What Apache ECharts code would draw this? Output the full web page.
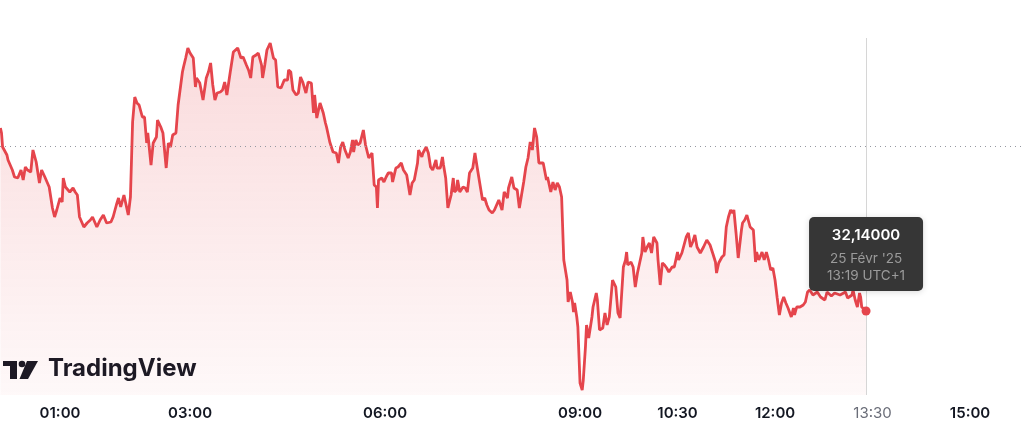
<!DOCTYPE html>
<html>
<head>
<meta charset="utf-8">
<script src="https://cdn.jsdelivr.net/npm/echarts@6/dist/echarts.min.js"></script>
<style>
html,body{margin:0;padding:0;background:#fff;}
#main{width:1024px;height:445px;}
</style>
</head>
<body>
<div id="main"></div>
<script>
// minutes since 00:00 (25 Févr '25)
var times = [
5,6,7,11,12,16,18,21,24,26,28,30,33,35,38,41,43,46,50,53,55,57,60,62,63,65,66,69,72,74,76,78,82,85,88,90,94,97,100,103,107,109,112,114,116,119,123,125,127,129,131,133,136,138,140,141,144,146,149,150,153,155,158,160,162,
164,167,169,173,174,176,178,180,183,185,186,189,192,195,197,199,201,203,205,208,210,212,214,217,220,222,224,227,229,232,234,236,238,241,243,246,247,249,251,254,257,259,261,264,267,270,271,273,275,278,280,282,284,287,289,292,294,295,297,300,303,305,306,309,312,315,317,319,321,323,326,
328,330,331,333,335,337,340,342,343,345,348,350,352,353,354,357,359,361,363,366,367,370,372,375,377,378,380,383,385,387,390,391,394,395,398,400,402,404,407,408,411,413,414,416,418,421,423,424,426,427,429,432,434,436,438,441,443,445,448,450,452,454,456,459,461,463,465,468,470,473,474,477,479,482,484,486,488,490,492,494,496,498,500,
502,506,509,510,513,515,517,519,521,523,525,528,529,531,533,534,535,537,538,540,542,543,545,546,548,551,552,555,556,558,561,563,565,567,570,571,573,575,577,580,582,583,584,587,589,591,593,594,597,598,600,602,604,606,608,611,612,614,616,618,620,622,625,627,630,631,634,636,638,640,642,644,646,648,651,
654,655,657,660,663,665,666,668,671,673,675,677,679,681,682,684,686,689,690,692,694,697,700,702,703,705,708,710,712,714,716,718,720,722,724,726,728,730,732,735,737,738,740,743,746,748,750,752,755,759,762,763,766,768,772,775,780,785,787,791,792,794,796,798,799,800,804
];
var prices = [
32.506,32.496,32.468,32.452,32.442,32.422,32.408,32.406,32.422,32.402,32.428,32.422,32.418,32.462,32.438,32.396,32.422,32.408,32.388,32.346,32.328,32.342,32.366,32.358,32.406,32.388,32.392,32.378,32.386,32.378,32.372,32.328,32.308,32.316,32.322,32.328,32.308,32.322,32.332,32.316,32.318,32.328,32.352,32.366,32.348,32.372,32.332,32.368,32.518,32.568,32.556,32.552,32.528,32.528,32.476,32.496,32.432,32.476,32.488,32.522,32.508,32.496,32.426,32.476,32.468,
32.492,32.496,32.552,32.618,32.628,32.646,32.666,32.656,32.646,32.588,32.606,32.596,32.562,32.606,32.618,32.636,32.592,32.562,32.576,32.578,32.582,32.598,32.572,32.616,32.658,32.662,32.666,32.646,32.648,32.632,32.622,32.606,32.648,32.652,32.656,32.632,32.606,32.632,32.662,32.676,32.646,32.642,32.588,32.586,32.602,32.602,32.622,32.618,32.582,32.572,32.576,32.608,32.598,32.576,32.598,32.596,32.536,32.572,32.526,32.556,32.536,32.516,32.508,32.478,32.458,32.456,32.436,32.468,32.478,32.462,32.446,
32.458,32.482,32.458,32.482,32.472,32.476,32.502,32.472,32.472,32.446,32.456,32.392,32.388,32.346,32.402,32.406,32.398,32.408,32.416,32.416,32.398,32.426,32.428,32.436,32.422,32.422,32.412,32.372,32.396,32.402,32.436,32.462,32.448,32.456,32.468,32.456,32.428,32.422,32.442,32.426,32.426,32.448,32.432,32.406,32.346,32.372,32.406,32.378,32.382,32.402,32.378,32.388,32.386,32.378,32.416,32.426,32.456,32.428,32.388,32.362,32.366,32.352,32.342,32.336,32.342,32.352,32.362,32.342,32.378,32.366,32.386,32.408,32.386,32.382,32.346,32.372,32.398,32.428,32.446,32.478,32.462,32.506,32.488,
32.436,32.436,32.402,32.408,32.378,32.398,32.382,32.396,32.388,32.368,32.242,32.202,32.158,32.178,32.158,32.138,32.156,32.128,32.108,31.996,31.982,32.002,32.068,32.112,32.086,32.128,32.148,32.176,32.162,32.102,32.106,32.136,32.112,32.128,32.202,32.202,32.188,32.136,32.126,32.228,32.242,32.258,32.232,32.238,32.228,32.188,32.216,32.226,32.256,32.288,32.258,32.268,32.276,32.256,32.288,32.276,32.242,32.192,32.236,32.232,32.226,32.218,32.228,32.228,32.258,32.242,32.256,32.272,32.288,32.296,32.268,32.278,32.292,32.268,32.256,
32.268,32.272,32.282,32.272,32.252,32.238,32.216,32.236,32.248,32.252,32.308,32.328,32.342,32.336,32.342,32.296,32.246,32.302,32.316,32.322,32.332,32.308,32.302,32.238,32.258,32.242,32.258,32.242,32.258,32.242,32.222,32.226,32.202,32.166,32.132,32.156,32.168,32.156,32.146,32.128,32.146,32.132,32.148,32.148,32.152,32.158,32.178,32.182,32.172,32.178,32.168,32.172,32.162,32.178,32.170,32.176,32.172,32.178,32.166,32.172,32.182,32.162,32.148,32.176,32.168,32.148,32.140
];
var tickTimes = [60, 180, 360, 540, 630, 720, 810, 900];
var prevClose = 32.472;
var lastPriceText = '32,14000';
var lastDateText = '25 Févr \'25';
var lastTimeText = '13:19 UTC+1';

var red = '#e5454c';
var data = [];
for (var i = 0; i < times.length; i++) data.push([times[i], prices[i]]);
var last = data[data.length - 1];

function hhmm(m){
	var h = Math.floor(m / 60), mm = m % 60;
	return (h < 10 ? '0' : '') + h + ':' + (mm < 10 ? '0' : '') + mm;
}

var chart = echarts.init(document.getElementById('main'));
chart.setOption({
	animation: false,
	textStyle: { fontFamily: 'Inter' },
	grid: { left: 0, right: 0, top: 0, bottom: 50, containLabel: false },
	xAxis: {
		type: 'value',
		min: 4.6,
		max: 949.8,
		axisLine: { show: false },
		axisTick: { show: false },
		splitLine: { show: false },
		axisLabel: {
			customValues: tickTimes,
			margin: 11,
			formatter: function(v){
				return v === 810 ? '{g|' + hhmm(v) + '}' : '{b|' + hhmm(v) + '}';
			},
			rich: {
				b: { fontFamily: 'Inter', fontSize: 15, fontWeight: 600, color: '#131722' },
				g: { fontFamily: 'Inter', fontSize: 15, fontWeight: 400, color: '#6a6d78' }
			}
		}
	},
	yAxis: {
		type: 'value',
		min: 31.972,
		max: 32.762,
		show: false
	},
	graphic: [
		{ type: 'polygon', shape: { points: [[3,361],[17,361],[17,379],[10,379],[10,366],[3,366]] }, style: { fill: '#131722' } },
		{ type: 'circle', shape: { cx: 22, cy: 364, r: 3.3 }, style: { fill: '#131722' } },
		{ type: 'polygon', shape: { points: [[27,361],[38,361],[28,379],[19.5,379]] }, style: { fill: '#131722' } },
		{ type: 'text', left: 48, top: 357, style: { text: 'TradingView', fontFamily: 'Inter', fontSize: 24, fontWeight: 700, fill: '#131722' } }
	],
	series: [{
		type: 'line',
		data: data,
		showSymbol: false,
		smooth: false,
		lineStyle: { color: red, width: 2.8 },
		itemStyle: { color: red },
		areaStyle: {
			color: new echarts.graphic.LinearGradient(0, 0, 0, 1, [
				{ offset: 0, color: 'rgba(229,69,76,0.28)' },
				{ offset: 1, color: 'rgba(229,69,76,0.05)' }
			])
		},
		markLine: {
			silent: true,
			symbol: 'none',
			label: { show: false },
			data: [
				{ yAxis: prevClose, lineStyle: { color: '#9598a1', width: 1, type: [1, 4] } },
				[
					{ coord: [last[0], 32.686], lineStyle: { color: '#d6d6d6', width: 1, type: 'solid' } },
					{ coord: [last[0], 31.972] }
				]
			]
		},
		markPoint: {
			silent: true,
			symbol: 'circle',
			symbolSize: 9,
			itemStyle: { color: red },
			data: [{ coord: last }],
			label: {
				show: true,
				position: 'inside',
				offset: [0, -57],
				formatter: '{a|' + lastPriceText + '}\n{b|' + lastDateText + '}\n{b|' + lastTimeText + '}',
				backgroundColor: '#363636',
				borderRadius: 5,
				padding: [3, 10, 7, 10],
				width: 94,
				align: 'center',
				shadowBlur: 6,
				shadowColor: 'rgba(0,0,0,0.15)',
				shadowOffsetY: 1,
				rich: {
					a: { fontFamily: 'Inter', fontSize: 15, fontWeight: 600, color: '#ffffff', lineHeight: 30, align: 'center' },
					b: { fontFamily: 'Inter', fontSize: 13.5, color: '#9b9b9b', lineHeight: 17, align: 'center' }
				}
			}
		}
	}]
});
</script>
</body>
</html>
